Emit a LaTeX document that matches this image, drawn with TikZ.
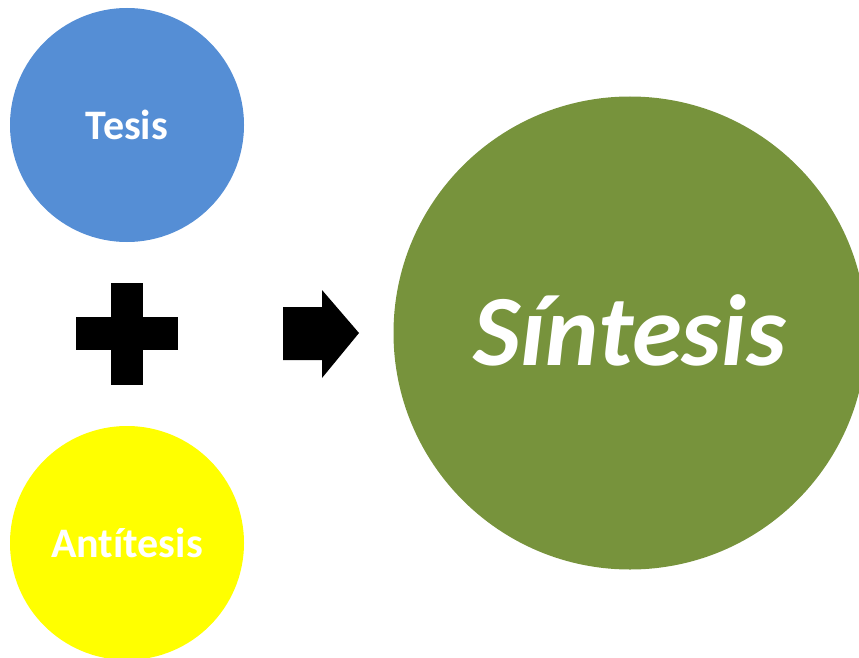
\documentclass[tikz,border=0pt]{standalone}
\usepackage{fontspec}
\setmainfont{Carlito}[Ligatures={NoCommon}]
\definecolor{tesisblue}{HTML}{558ED5}
\definecolor{sintesisgreen}{HTML}{77933C}
\definecolor{antiyellow}{HTML}{FFFF00}
\usetikzlibrary{positioning}

\begin{document}
\begin{tikzpicture}[x=1pt,y=-1pt,
  idea/.style={circle,inner sep=0pt,text=white,font=\bfseries\fontsize{42}{50}\selectfont}]
  \useasboundingbox (0,0) rectangle (859,658);
  \clip (0,0) rectangle (859,658);
  % the two starting ideas
  \node[idea,fill=tesisblue,minimum size=234pt] (tesis) at (127,125) {Tesis};
  \node[idea,fill=antiyellow,minimum size=234pt] (antitesis) at (127,543) {Antítesis};
  % the result
  \node[idea,fill=sintesisgreen,minimum size=473pt,
        font=\bfseries\itshape\fontsize{101}{120}\selectfont] (sintesis) at (630,333) {\raisebox{5pt}{Síntesis}};
  % plus sign and arrow
  \fill (111,283) rectangle (143,385);
  \fill (76,317) rectangle (178,350);
  \fill (283,307) -- (322,307) -- (322,290) -- (359,333) -- (322,378) -- (322,360) -- (283,360) -- cycle;
\end{tikzpicture}
\end{document}
